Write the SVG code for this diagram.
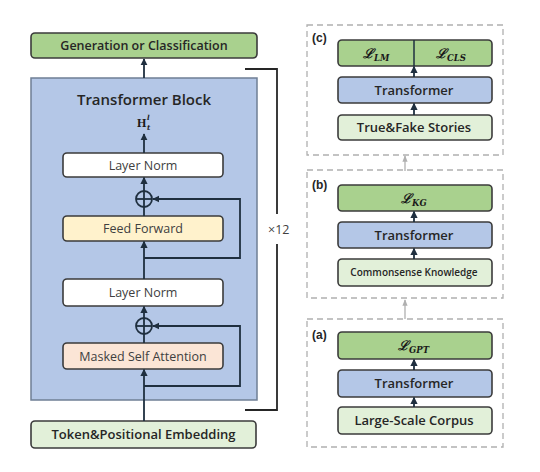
<svg xmlns="http://www.w3.org/2000/svg" width="540" height="472" viewBox="0 0 540 472">
<style>
.box{stroke:#3b3b3b;stroke-width:1.6}
.green{fill:#a9d18e}
.lgreen{fill:#e2f0d9}
.blue{fill:#b4c7e7}
.white{fill:#ffffff}
.yellow{fill:#fff2cc}
.peach{fill:#fbe5d6}
.lbl{font-family:"Open Sans","Liberation Sans",sans-serif;font-weight:600;fill:#262626;text-anchor:middle}
.in{font-family:"Open Sans","Liberation Sans",sans-serif;font-weight:400;fill:#404040;text-anchor:middle;font-size:12.5px}
.math{font-family:"DejaVu Serif","Liberation Serif",serif;font-weight:bold;font-style:italic;fill:#1a1a1a}
.ln{stroke:#1f2f3f;stroke-width:1.8;fill:none}
.dash{fill:none;stroke:#b0b0b0;stroke-width:1.3;stroke-dasharray:6,4}
.gray{stroke:#b0b0b0;stroke-width:1.3;fill:none}
.sm{font-family:"Liberation Sans",sans-serif;font-weight:bold;font-size:12px;fill:#262626}
</style>
<defs>
<marker id="ah" viewBox="0 0 10 10" refX="9" refY="5" markerWidth="4" markerHeight="4" orient="auto"><path d="M0,0 L10,5 L0,10 z" fill="#1f2f3f"/></marker>
<marker id="ahg" viewBox="0 0 10 10" refX="9" refY="5" markerWidth="5" markerHeight="5" orient="auto"><path d="M0,1 L10,5 L0,9 z" fill="#b0b0b0"/></marker>
</defs>
<rect width="540" height="472" fill="#ffffff"/>

<g id="output">
<rect class="box green" x="31" y="33" width="226" height="25" rx="4"/>
<text class="lbl" x="144" y="50" font-size="12.5">Generation or Classification</text>
</g>

<g id="transformer-block">
<rect x="31" y="78" width="226" height="322" fill="#b4c7e7" stroke="#6f7f95" stroke-width="1.5"/>
<text class="lbl" x="144" y="105" font-size="15" font-weight="700">Transformer Block</text>
<text x="137" y="127" font-family="Liberation Serif, serif" font-weight="bold" font-size="12" fill="#1a1a1a">H</text>
<text class="math" x="147" y="120" font-size="7">l</text>
<text class="math" x="147" y="130" font-size="7">t</text>
</g>

<g id="layer-norm-1">
<rect class="box white" x="63" y="153" width="160" height="24" rx="4"/>
<text class="in" x="143" y="169.5">Layer Norm</text>
</g>

<g id="add-1">
<circle cx="144" cy="199" r="8" fill="none" stroke="#1f2f3f" stroke-width="1.8"/>
<line class="ln" x1="136" y1="199" x2="152" y2="199"/>
<line class="ln" x1="144" y1="191" x2="144" y2="207"/>
</g>

<g id="feed-forward">
<rect class="box yellow" x="63" y="216" width="160" height="25" rx="4"/>
<text class="in" x="143" y="233">Feed Forward</text>
</g>

<g id="layer-norm-2">
<rect class="box white" x="63" y="279" width="160" height="27" rx="4"/>
<text class="in" x="143" y="297">Layer Norm</text>
</g>

<g id="add-2">
<circle cx="144" cy="326" r="8" fill="none" stroke="#1f2f3f" stroke-width="1.8"/>
<line class="ln" x1="136" y1="326" x2="152" y2="326"/>
<line class="ln" x1="144" y1="318" x2="144" y2="334"/>
</g>

<g id="masked-self-attention">
<rect class="box peach" x="63" y="343" width="160" height="26" rx="4"/>
<text class="in" x="143" y="360.5">Masked Self Attention</text>
</g>

<g id="embedding">
<rect class="box lgreen" x="31" y="421" width="225" height="27" rx="4"/>
<text class="lbl" x="143.5" y="439" font-size="13">Token&amp;Positional Embedding</text>
</g>

<g id="repeat-label">
<text x="268" y="234" font-family="Open Sans, Liberation Sans, sans-serif" font-size="12.5" fill="#404040">×12</text>
</g>

<g id="panel-c">
<rect class="dash" x="307" y="25" width="196" height="130"/>
<text class="sm" x="312" y="42">(c)</text>
<rect class="box green" x="338" y="40" width="154" height="26" rx="4"/>
<line x1="414" y1="40" x2="414" y2="66" stroke="#1f2f3f" stroke-width="1.5"/>
<text class="math" x="363" y="58" font-size="13">ℒ<tspan font-size="8.5" dy="3">LM</tspan></text>
<text class="math" x="436" y="58" font-size="13">ℒ<tspan font-size="8.5" dy="3">CLS</tspan></text>
<rect class="box blue" x="338" y="77" width="154" height="26" rx="4"/>
<text class="lbl" x="414" y="95" font-size="13">Transformer</text>
<rect class="box lgreen" x="338" y="115" width="154" height="25" rx="4"/>
<text class="lbl" x="414" y="132" font-size="13">True&amp;Fake Stories</text>
</g>

<g id="panel-b">
<rect class="dash" x="307" y="170" width="196" height="128"/>
<text class="sm" x="312" y="189">(b)</text>
<rect class="box green" x="338" y="185" width="154" height="26" rx="4"/>
<text class="math" x="401" y="203" font-size="13">ℒ<tspan font-size="8.5" dy="3">KG</tspan></text>
<rect class="box blue" x="338" y="222" width="154" height="26" rx="4"/>
<text class="lbl" x="414" y="240" font-size="13">Transformer</text>
<rect class="box lgreen" x="338" y="259" width="154" height="27" rx="4"/>
<text class="lbl" x="414" y="276" font-size="10">Commonsense Knowledge</text>
</g>

<g id="panel-a">
<rect class="dash" x="307" y="319" width="196" height="128"/>
<text class="sm" x="312" y="339">(a)</text>
<rect class="box green" x="338" y="332" width="154" height="27" rx="4"/>
<text class="math" x="398" y="350" font-size="13">ℒ<tspan font-size="8.5" dy="3">GPT</tspan></text>
<rect class="box blue" x="338" y="370" width="154" height="27" rx="4"/>
<text class="lbl" x="414" y="388" font-size="13">Transformer</text>
<rect class="box lgreen" x="338" y="407" width="154" height="27" rx="4"/>
<text class="lbl" x="414" y="425" font-size="13">Large-Scale Corpus</text>
</g>

<g id="connectors">
<line class="ln" x1="144" y1="78" x2="144" y2="59" marker-end="url(#ah)"/>
<line class="ln" x1="144" y1="153" x2="144" y2="134" marker-end="url(#ah)"/>
<line class="ln" x1="144" y1="191" x2="144" y2="177.5" marker-end="url(#ah)"/>
<line class="ln" x1="144" y1="216" x2="144" y2="207"/>
<polyline class="ln" points="144,258 240,258 240,199 153,199" marker-end="url(#ah)"/>
<line class="ln" x1="144" y1="279" x2="144" y2="241.5" marker-end="url(#ah)"/>
<line class="ln" x1="144" y1="318" x2="144" y2="306.5" marker-end="url(#ah)"/>
<line class="ln" x1="144" y1="343" x2="144" y2="334"/>
<polyline class="ln" points="144,386 240,386 240,326 153,326" marker-end="url(#ah)"/>
<line class="ln" x1="144" y1="421" x2="144" y2="369.5" marker-end="url(#ah)"/>
<polyline points="245,69 277,69 277,214" fill="none" stroke="#262626" stroke-width="1.8"/>
<polyline points="277,244 277,410 245,410" fill="none" stroke="#262626" stroke-width="1.8"/>
<line class="ln" x1="414" y1="115" x2="414" y2="103.5" marker-end="url(#ah)"/>
<line class="ln" x1="414" y1="77" x2="414" y2="66.5" marker-end="url(#ah)"/>
<line class="ln" x1="414" y1="259" x2="414" y2="248.5" marker-end="url(#ah)"/>
<line class="ln" x1="414" y1="222" x2="414" y2="211.5" marker-end="url(#ah)"/>
<line class="ln" x1="414" y1="407" x2="414" y2="397.5" marker-end="url(#ah)"/>
<line class="ln" x1="414" y1="370" x2="414" y2="359.5" marker-end="url(#ah)"/>
<line class="gray" x1="405" y1="171" x2="405" y2="156" marker-end="url(#ahg)"/>
<line class="gray" x1="405" y1="319" x2="405" y2="300" marker-end="url(#ahg)"/>
</g>
</svg>
